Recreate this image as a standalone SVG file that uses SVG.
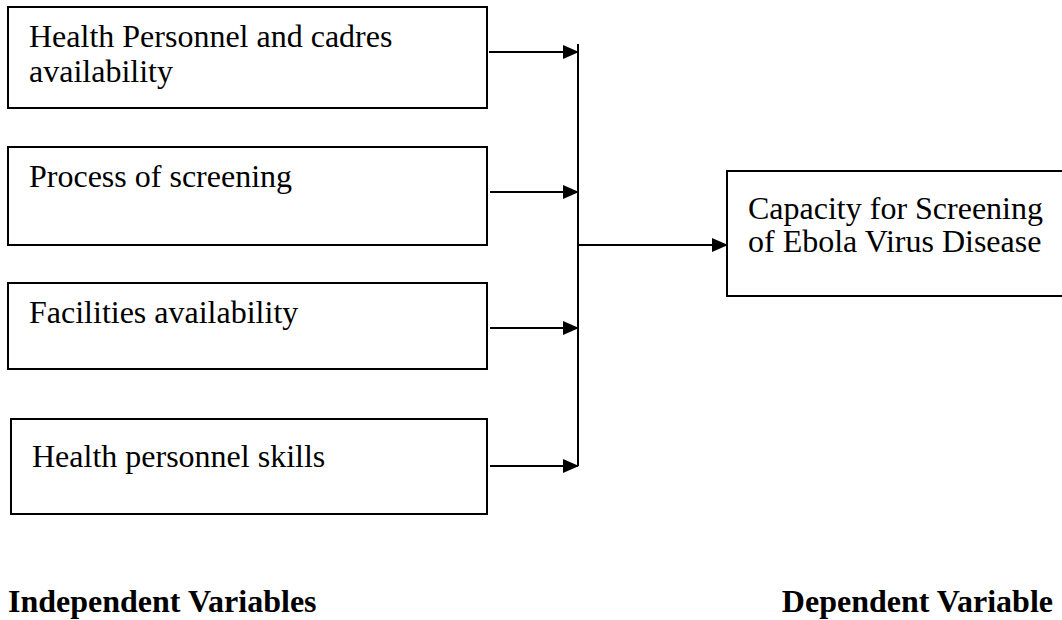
<svg xmlns="http://www.w3.org/2000/svg" width="1062" height="620" viewBox="0 0 1062 620">
  <style>
    .box { fill: #ffffff; stroke: #000000; stroke-width: 2; }
    .txt { font-family: "Liberation Serif", "Times New Roman", serif; font-size: 32px; fill: #000000; }
    .lbl { font-family: "Liberation Serif", "Times New Roman", serif; font-size: 32px; font-weight: bold; fill: #000000; }
    .conn { stroke: #000000; stroke-width: 2; fill: none; }
  </style>
  <defs>
    <marker id="arrow" markerUnits="userSpaceOnUse" markerWidth="16" markerHeight="14" refX="15" refY="7" orient="auto">
      <path d="M0,0 L16,7 L0,14 z" fill="#000000"/>
    </marker>
  </defs>
  <rect width="1062" height="620" fill="#ffffff"/>

  <g id="node-personnel">
    <rect class="box" x="8" y="7" width="479" height="101"/>
    <text class="txt" x="29" y="47">Health Personnel and cadres</text>
    <text class="txt" x="29" y="82">availability</text>
  </g>
  <g id="node-process">
    <rect class="box" x="8" y="147" width="479" height="98"/>
    <text class="txt" x="29" y="187">Process of screening</text>
  </g>
  <g id="node-facilities">
    <rect class="box" x="8" y="283" width="479" height="86"/>
    <text class="txt" x="29" y="323">Facilities availability</text>
  </g>
  <g id="node-skills">
    <rect class="box" x="11" y="419" width="476" height="95"/>
    <text class="txt" x="32" y="467">Health personnel skills</text>
  </g>
  <g id="node-capacity">
    <rect class="box" x="727" y="171" width="340" height="125"/>
    <text class="txt" x="748" y="219">Capacity for Screening</text>
    <text class="txt" x="748" y="252">of Ebola Virus Disease</text>
  </g>

  <g id="connectors">
    <line class="conn" x1="578" y1="44" x2="578" y2="466"/>
    <line class="conn" x1="489" y1="52" x2="578" y2="52" marker-end="url(#arrow)"/>
    <line class="conn" x1="490" y1="192" x2="578" y2="192" marker-end="url(#arrow)"/>
    <line class="conn" x1="490" y1="328" x2="578" y2="328" marker-end="url(#arrow)"/>
    <line class="conn" x1="490" y1="466" x2="578" y2="466" marker-end="url(#arrow)"/>
    <line class="conn" x1="578" y1="245" x2="727" y2="245" marker-end="url(#arrow)"/>
  </g>

  <g id="labels">
    <text class="lbl" x="8" y="612">Independent Variables</text>
    <text class="lbl" x="1053" y="612" text-anchor="end">Dependent Variable</text>
  </g>
</svg>
